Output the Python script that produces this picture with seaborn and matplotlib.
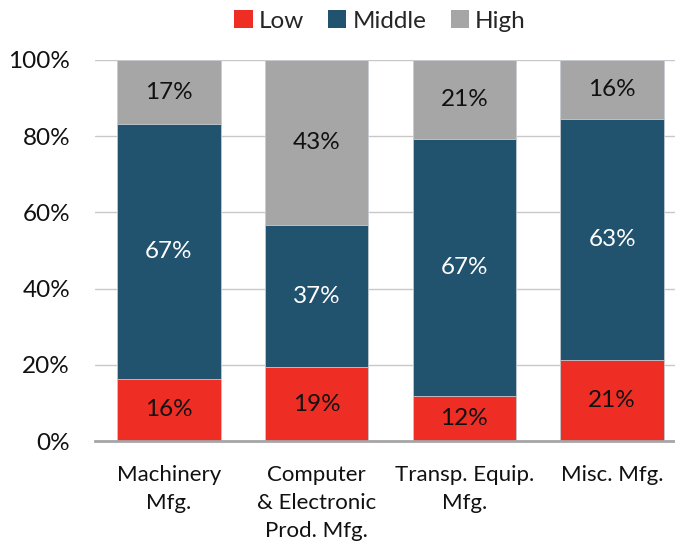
import matplotlib
matplotlib.use("Agg")
import matplotlib.pyplot as plt
import seaborn as sns
import numpy as np
import pandas as pd
from matplotlib.patches import Patch

categories = ["Machinery\nMfg.", "Computer\n& Electronic\nProd. Mfg.", "Transp. Equip.\nMfg.", "Misc. Mfg."]
low = [16.3, 19.4, 11.8, 21.3]
middle = [66.9, 37.3, 67.4, 63.1]
high = [16.8, 43.3, 20.8, 15.6]
series_names = ["Low", "Middle", "High"]
colors = {"Low": "#EE2D24", "Middle": "#21526E", "High": "#A6A6A6"}
yticks = [0, 20, 40, 60, 80, 100]

sns.set_theme(style="white")
plt.rcParams['font.family'] = ['Lato', 'DejaVu Sans']

fig = plt.figure(figsize=(6.75, 5.41), dpi=100)
ax = fig.add_axes([95/675, 1-441/541, 1-95/675, (441-60)/541])

low_a = np.array(low)
mid_a = np.array(middle)
high_a = np.array(high)
tops = {"High": low_a + mid_a + high_a, "Middle": low_a + mid_a, "Low": low_a}

for name in ["High", "Middle", "Low"]:
    df = pd.DataFrame({"cat": categories, "val": tops[name]})
    sns.barplot(data=df, x="cat", y="val", color=colors[name], width=0.7,
                saturation=1, edgecolor="#C8CDD2", linewidth=0.6, ax=ax, zorder=3)

bottoms = {"Low": np.zeros(4), "Middle": low_a, "High": low_a + mid_a}
vals = {"Low": low_a, "Middle": mid_a, "High": high_a}
for name in series_names:
    for i in range(4):
        ax.text(i, bottoms[name][i] + vals[name][i] / 2, f"{vals[name][i]:.0f}%",
                ha="center", va="center", fontsize=17.5,
                color="white" if name == "Middle" else "#111111", zorder=5)

ax.set_xlim(-0.5, 3.426)
ax.set_ylim(0, 100)
ax.set_yticks(yticks)
ax.set_yticklabels([f"{t}%" for t in yticks], fontsize=17.5, color="#111111")
ax.tick_params(axis="y", length=0, pad=18)
ax.tick_params(axis="x", length=0, pad=17, labelsize=16, labelcolor="#111111")
for lbl in ax.get_xticklabels():
    lbl.set_linespacing(1.5)
ax.set_xlabel("")
ax.set_ylabel("")
for s in ["top", "right", "left"]:
    ax.spines[s].set_visible(False)
ax.spines["bottom"].set_color("#A6A6A6")
ax.spines["bottom"].set_linewidth(2)
ax.spines["bottom"].set_zorder(6)
ax.yaxis.grid(True, color="#C8C8C8", linewidth=1, zorder=0)
ax.set_axisbelow(True)

handles = [Patch(facecolor=colors[n], edgecolor="none") for n in series_names]
fig.legend(handles, series_names, loc="center", bbox_to_anchor=(380/675, 1-21/541),
           ncol=3, frameon=False, fontsize=17.5, handlelength=0.75, handleheight=0.75,
           handletextpad=0.25, columnspacing=1.0)

fig.savefig("out.png", dpi=100)
